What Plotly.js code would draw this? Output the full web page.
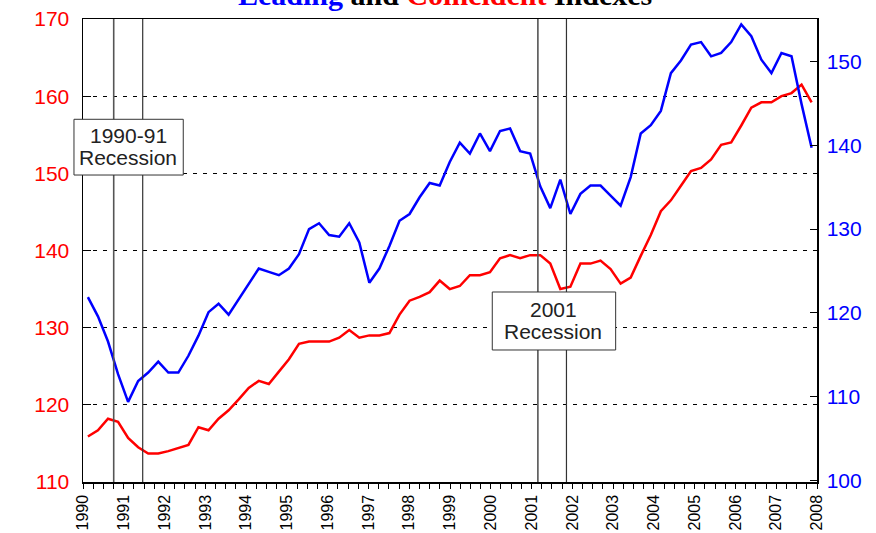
<!DOCTYPE html>
<html><head><meta charset="utf-8">
<script src="https://cdn.plot.ly/plotly-3.0.1.min.js"></script>
<style>html,body{margin:0;padding:0;background:#fff}#chart{width:876px;height:533px}</style>
</head><body><div id="chart"></div>
<script>
// Quarterly observations, 1990Q1 .. 2008Q1
const firstQuarter = 1990.12;
const quarterStep = 0.2465;
const leading = [121.9,119.6,116.6,112.7,109.4,111.9,112.9,114.2,112.9,112.9,
114.9,117.3,120.1,121.1,119.8,121.6,123.4,125.3,124.9,124.5,
125.3,127.0,130.0,130.7,129.3,129.1,130.7,128.4,123.6,125.3,
128.0,131.0,131.8,133.8,135.5,135.2,138.0,140.3,139.0,141.4,
139.3,141.7,142.0,139.3,139.0,135.1,132.5,135.9,131.8,134.2,
135.2,135.2,134.0,132.8,136.2,141.4,142.4,144.1,148.6,150.1,
152.0,152.3,150.6,151.0,152.3,154.4,153.0,150.2,148.6,151.0,
150.6,144.9,139.7];
const coincident = [115.9,116.7,118.2,117.8,115.7,114.5,113.7,113.7,114.0,114.4,
114.8,117.1,116.7,118.2,119.3,120.7,122.2,123.1,122.7,124.3,
125.9,127.9,128.2,128.2,128.2,128.7,129.7,128.7,129.0,129.0,
129.3,131.7,133.5,134.0,134.6,136.1,135.0,135.4,136.8,136.8,
137.2,139.0,139.4,139.0,139.4,139.4,138.3,135.0,135.3,138.3,
138.3,138.7,137.6,135.7,136.5,139.3,142.0,145.1,146.5,148.4,
150.3,150.7,151.8,153.7,154.0,156.2,158.5,159.2,159.2,160.0,
160.4,161.5,159.2];
const recessionLines = [1990.753, 1991.464, 2001.155, 2001.856];
const yearTicks = [1990,1991,1992,1993,1994,1995,1996,1997,1998,1999,2000,2001,2002,2003,2004,2005,2006,2007,2008];
const yearLabels = yearTicks.map(String);
const leftTicks = [110,120,130,140,150,160,170];
const rightTicks = [100,110,120,130,140,150];
const recessionLabels = [["1990-91","Recession"],["2001","Recession"]];
const chartTitle = "<b><span style='color:#0000ff'>Leading</span> and <span style='color:#ff0000'>Coincident</span> Indexes</b>";

const dates = leading.map((_, i) => firstQuarter + i * quarterStep);
const sans = "Liberation Sans, Arial, Helvetica, sans-serif";

const traces = [
  {x: dates, y: coincident, type: 'scatter', mode: 'lines', yaxis: 'y',
   line: {color: '#ff0000', width: 2.5}, hoverinfo: 'skip'},
  {x: dates, y: leading, type: 'scatter', mode: 'lines', yaxis: 'y2',
   line: {color: '#0000ff', width: 2.5}, hoverinfo: 'skip'}
];

const shapes = recessionLines.map((x, k) => ({
  type: 'line', xref: 'x', yref: 'paper', x0: x, x1: x, y0: 0, y1: 1,
  line: {color: k % 2 === 0 ? '#555' : '#333', width: k % 2 === 0 ? 1.6 : 1.2}, layer: 'above'
}));
const boxes = [
  {x0: -0.0123, x1: 0.1366, y0: 0.663, y1: 0.7834},
  {x0: 0.5576, x1: 0.7257, y0: 0.2851, y1: 0.4104}
];
boxes.forEach(b => shapes.push({type: 'rect', xref: 'paper', yref: 'paper',
  x0: b.x0, x1: b.x1, y0: b.y0, y1: b.y1, fillcolor: '#ffffff',
  line: {color: '#333', width: 1}, layer: 'above'}));

const labelPos = [
  {x: 0.0619, y: [0.7477, 0.7019]},
  {x: 0.641, y: [0.3732, 0.3261]}
];
const annotations = [];
recessionLabels.forEach((lines, k) => lines.forEach((t, j) => annotations.push({
  text: t, xref: 'paper', yref: 'paper', x: labelPos[k].x, y: labelPos[k].y[j],
  xanchor: 'center', yanchor: 'middle', showarrow: false,
  font: {family: sans, size: 21, color: '#222'}
})));
// Title, sitting mostly above the top edge of the page as in the source image
annotations.push({
  text: chartTitle, xref: 'paper', yref: 'paper', x: 0.493, y: 1.052,
  xanchor: 'center', yanchor: 'middle', showarrow: false,
  font: {family: "Liberation Serif, Times New Roman, serif", size: 30, color: '#000'}
});

const layout = {
  width: 876, height: 533,
  margin: {l: 83, r: 59, t: 19, b: 51, pad: 0},
  paper_bgcolor: '#fff', plot_bgcolor: '#fff',
  showlegend: false,
  xaxis: {
    range: [1990, 2008], tickmode: 'array', tickvals: yearTicks, ticktext: yearLabels,
    tickangle: -90, ticks: 'outside', ticklen: 5, tickwidth: 1, tickcolor: '#000',
    minor: {dtick: 0.25, tick0: 1990, ticks: 'outside', ticklen: 5, tickwidth: 1, tickcolor: '#000', showgrid: false},
    showline: true, linecolor: '#000', linewidth: 1.5, mirror: true,
    showgrid: false, zeroline: false,
    tickfont: {family: sans, size: 16, color: '#000'}
  },
  yaxis: {
    range: [110, 170], tickmode: 'array', tickvals: leftTicks,
    ticks: 'inside', ticklen: 8, tickwidth: 1, tickcolor: '#000',
    showline: true, linecolor: '#000', linewidth: 1.5, mirror: true,
    showgrid: true, gridcolor: '#000', gridwidth: 1.1, griddash: '4px,6px',
    zeroline: false, ticklabelstandoff: 8,
    tickfont: {family: sans, size: 21, color: '#ff0000'}
  },
  yaxis2: {
    range: [99.85, 155.05], overlaying: 'y', side: 'right', tickmode: 'array', tickvals: rightTicks,
    ticks: 'inside', ticklen: 7, tickwidth: 1, tickcolor: '#000',
    showline: true, linecolor: '#000', linewidth: 1.5,
    showgrid: false, zeroline: false, ticklabelstandoff: 4,
    tickfont: {family: sans, size: 21, color: '#0000ff'}
  },
  shapes: shapes,
  annotations: annotations
};

Plotly.newPlot('chart', traces, layout, {staticPlot: true, displayModeBar: false});
</script>
</body></html>
